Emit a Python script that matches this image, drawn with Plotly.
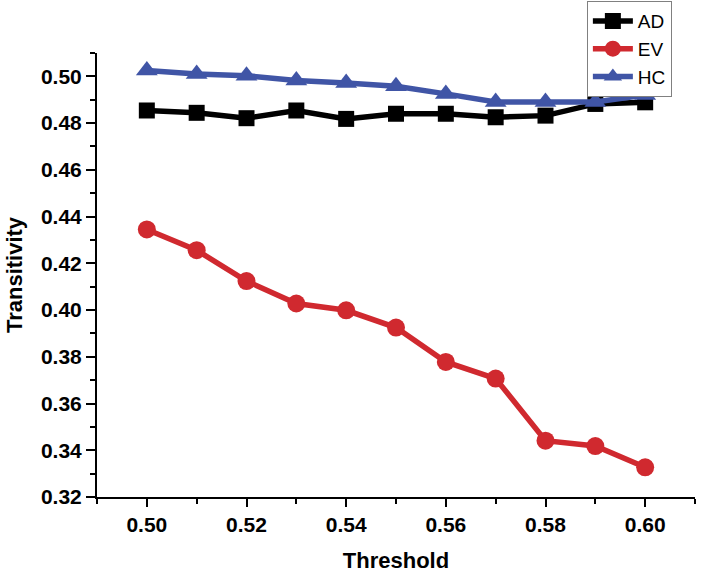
import plotly.graph_objects as go

thresholds = [0.50, 0.51, 0.52, 0.53, 0.54, 0.55, 0.56, 0.57, 0.58, 0.59, 0.60]
ad_values = [0.4854, 0.4844, 0.4821, 0.4854, 0.4818, 0.4840, 0.4840, 0.4825, 0.4832, 0.4882, 0.4889]
ev_values = [0.4345, 0.4256, 0.4124, 0.4028, 0.3999, 0.3925, 0.3778, 0.3707, 0.3441, 0.3418, 0.3327]
hc_values = [0.5025, 0.5010, 0.5003, 0.4982, 0.4972, 0.4958, 0.4925, 0.4890, 0.4890, 0.4890, 0.4920]
x_ticks = [0.50, 0.52, 0.54, 0.56, 0.58, 0.60]
y_ticks = [0.32, 0.34, 0.36, 0.38, 0.40, 0.42, 0.44, 0.46, 0.48, 0.50]

FONT = "Liberation Sans, Arial, sans-serif"

fig = go.Figure()
fig.add_trace(go.Scatter(x=thresholds, y=ad_values, name="AD", mode="lines+markers",
                         line=dict(color="#000000", width=5.5),
                         marker=dict(symbol="square", size=16, color="#000000")))
fig.add_trace(go.Scatter(x=thresholds, y=ev_values, name="EV", mode="lines+markers",
                         line=dict(color="#D0292F", width=5.5),
                         marker=dict(symbol="circle", size=18, color="#D0292F")))
fig.add_trace(go.Scatter(x=thresholds, y=hc_values, name="HC", mode="lines+markers",
                         line=dict(color="#4055A6", width=5.5),
                         marker=dict(symbol="triangle-up", size=19, color="#4055A6")))

fig.update_layout(
    width=702, height=575,
    margin=dict(l=97, r=7, t=53, b=78, autoexpand=False),
    plot_bgcolor="white", paper_bgcolor="white",
    font=dict(family=FONT, color="black"),
    legend=dict(xref="container", yref="container", x=0.836, y=0.998,
                xanchor="left", yanchor="top",
                bordercolor="#808080", borderwidth=1, bgcolor="white",
                font=dict(family=FONT, size=19, color="black"),
                tracegroupgap=0, itemwidth=40),
    showlegend=True,
)
fig.update_xaxes(
    range=[0.49, 0.61], tickvals=x_ticks, ticktext=[f"{v:.2f}" for v in x_ticks],
    showgrid=False, zeroline=False, showline=True, linecolor="black", linewidth=2,
    ticks="outside", ticklen=8, tickwidth=2, tickcolor="black",
    minor=dict(dtick=0.01, tick0=0.49, ticks="outside", ticklen=5, tickwidth=2, tickcolor="black", showgrid=False),
    tickfont=dict(family=FONT, size=21, weight="bold"),
    automargin=False,
    title=dict(text="<b>Threshold</b>", font=dict(family=FONT, size=22), standoff=17),
)
fig.update_yaxes(
    range=[0.32, 0.51], tickvals=y_ticks, ticktext=[f"{v:.2f}" for v in y_ticks],
    showgrid=False, zeroline=False, showline=True, linecolor="black", linewidth=2,
    ticks="outside", ticklen=9, tickwidth=2, tickcolor="black",
    minor=dict(dtick=0.01, tick0=0.32, ticks="outside", ticklen=5, tickwidth=2, tickcolor="black", showgrid=False),
    tickfont=dict(family=FONT, size=21, weight="bold"),
    automargin=False,
    title=dict(text="<b>Transitivity</b>", font=dict(family=FONT, size=22), standoff=12),
)

fig.write_html("out.html",
               config={"displayModeBar": False},
               post_script="document.body.style.margin='0';document.body.style.overflow='hidden';")
